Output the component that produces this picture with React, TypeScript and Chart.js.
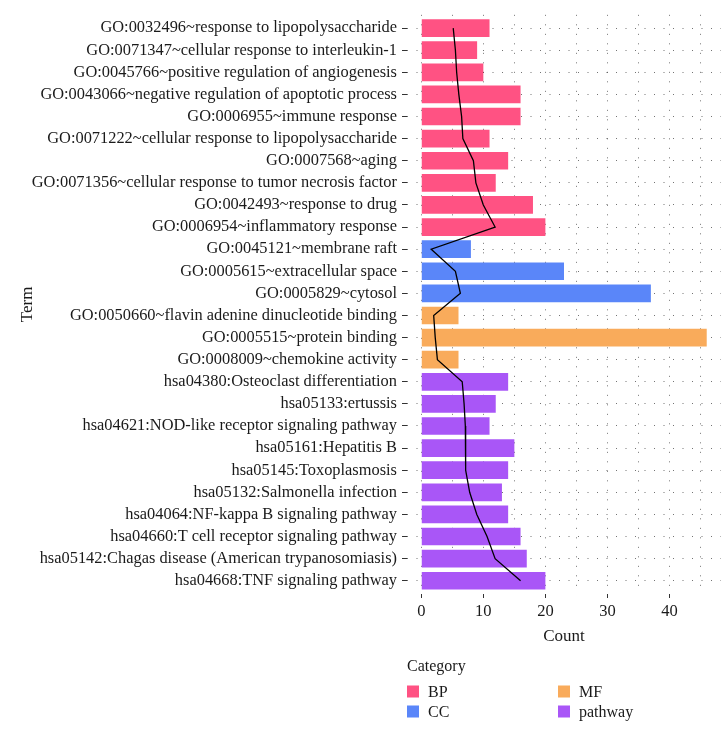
import React, { useEffect, useRef } from 'react';
import { Chart, registerables } from 'chart.js';

Chart.register(...registerables);

const FONT = '"Liberation Serif", "Times New Roman", serif';

const terms = [
  'GO:0032496~response to lipopolysaccharide',
  'GO:0071347~cellular response to interleukin-1',
  'GO:0045766~positive regulation of angiogenesis',
  'GO:0043066~negative regulation of apoptotic process',
  'GO:0006955~immune response',
  'GO:0071222~cellular response to lipopolysaccharide',
  'GO:0007568~aging',
  'GO:0071356~cellular response to tumor necrosis factor',
  'GO:0042493~response to drug',
  'GO:0006954~inflammatory response',
  'GO:0045121~membrane raft',
  'GO:0005615~extracellular space',
  'GO:0005829~cytosol',
  'GO:0050660~flavin adenine dinucleotide binding',
  'GO:0005515~protein binding',
  'GO:0008009~chemokine activity',
  'hsa04380:Osteoclast differentiation',
  'hsa05133:ertussis',
  'hsa04621:NOD-like receptor signaling pathway',
  'hsa05161:Hepatitis B',
  'hsa05145:Toxoplasmosis',
  'hsa05132:Salmonella infection',
  'hsa04064:NF-kappa B signaling pathway',
  'hsa04660:T cell receptor signaling pathway',
  'hsa05142:Chagas disease (American trypanosomiasis)',
  'hsa04668:TNF signaling pathway',
];

const termCategory = [
  'BP', 'BP', 'BP', 'BP', 'BP', 'BP', 'BP', 'BP', 'BP', 'BP',
  'CC', 'CC', 'CC',
  'MF', 'MF', 'MF',
  'pathway', 'pathway', 'pathway', 'pathway', 'pathway',
  'pathway', 'pathway', 'pathway', 'pathway', 'pathway',
];

const counts = [11, 9, 10, 16, 16, 11, 14, 12, 18, 20, 8, 23, 37, 6, 46, 6, 14, 12, 11, 15, 14, 13, 14, 16, 17, 20];

const lineValues = [5.15, 5.5, 5.7, 6.05, 6.5, 6.7, 8.4, 8.8, 10.0, 11.9, 1.6, 5.5, 6.3, 2.0, 2.25, 2.6, 6.6, 6.9, 7.1, 7.1, 7.2, 7.8, 8.95, 10.6, 11.9, 16.0];

const categories = ['BP', 'CC', 'MF', 'pathway'];
const categoryColors = ['#FF5283', '#5A86F9', '#F9AB5B', '#A956F7'];

const xTitle = 'Count';
const yTitle = 'Term';
const legendTitle = 'Category';

export default function App() {
  const ref = useRef<HTMLCanvasElement>(null);

  useEffect(() => {
    const canvas = ref.current!;
    const legendPlugin = {
      id: 'catLegend',
      afterDraw(chart: any) {
        const { ctx, chartArea } = chart;
        const x0 = chartArea.left;
        ctx.save();
        ctx.font = `16px ${FONT}`;
        ctx.textBaseline = 'middle';
        ctx.textAlign = 'left';
        ctx.fillStyle = '#1a1a1a';
        ctx.fillText(legendTitle, x0, 667);
        categories.forEach((c, i) => {
          const col = Math.floor(i / 2);
          const row = i % 2;
          const kx = x0 + col * 151;
          const ky = 691.5 + row * 20;
          ctx.fillStyle = categoryColors[i];
          ctx.fillRect(kx, ky - 6, 12, 12);
          ctx.fillStyle = '#1a1a1a';
          ctx.fillText(c, kx + 21, ky + 1);
        });
        ctx.restore();
      },
    };

    const barColors = termCategory.map((c) => categoryColors[categories.indexOf(c)]);

    const chart = new Chart(canvas, {
      type: 'bar',
      data: {
        datasets: [
          {
            type: 'line',
            label: 'line',
            data: lineValues.map((v, i) => ({ x: v, y: i })),
            borderColor: '#000000',
            borderWidth: 1.3,
            pointRadius: 0,
            fill: false,
            tension: 0,
            order: 0,
          } as any,
          {
            type: 'bar',
            label: 'Count',
            data: counts.map((v, i) => ({ x: v, y: i })),
            backgroundColor: barColors,
            borderWidth: 0,
            barPercentage: 1,
            categoryPercentage: 0.8,
            order: 1,
          },
        ],
      },
      options: {
        indexAxis: 'y',
        responsive: false,
        animation: false,
        events: [],
        layout: { padding: { top: 6, right: 6, bottom: 80, left: 0 } },
        plugins: {
          legend: { display: false },
          tooltip: { enabled: false },
        },
        scales: {
          x: {
            type: 'linear',
            position: 'bottom',
            offset: false,
            min: -2.3,
            max: 48.3,
            afterFit: (s: any) => {
              s.height = 56;
            },
            ticks: {
              stepSize: 5,
              includeBounds: false,
              autoSkip: false,
              maxRotation: 0,
              padding: 4,
              color: '#1a1a1a',
              font: { family: FONT, size: 16.5 },
              callback: (v: any) => (Number(v) % 10 === 0 ? String(v) : ''),
            },
            grid: {
              offset: false,
              color: 'rgba(0,0,0,0.55)',
              lineWidth: 1,
              tickLength: 4,
              tickWidth: 1,
              tickColor: (c: any) => (c.tick && c.tick.value % 10 === 0 ? '#333333' : 'rgba(0,0,0,0)'),
            },
            border: { display: false, dash: [1, 8.5] },
            title: {
              display: true,
              text: xTitle,
              color: '#1a1a1a',
              font: { family: FONT, size: 17 },
              padding: { top: 0, bottom: 3 },
            },
          },
          y: {
            type: 'linear',
            reverse: true,
            offset: false,
            min: -0.6,
            max: 25.6,
            afterFit: (s: any) => {
              s.width = 407;
            },
            ticks: {
              stepSize: 1,
              includeBounds: false,
              autoSkip: false,
              padding: 5,
              color: '#1a1a1a',
              font: { family: FONT, size: 16.4 },
              callback: (v: any) => terms[Number(v)] ?? '',
            },
            grid: {
              offset: false,
              color: 'rgba(0,0,0,0.55)',
              lineWidth: 1,
              tickLength: 5,
              tickWidth: 1,
              tickColor: '#333333',
            },
            border: { display: false, dash: [1, 8.5] },
            title: {
              display: true,
              text: yTitle,
              color: '#1a1a1a',
              font: { family: FONT, size: 17 },
              padding: { top: 17, bottom: 0 },
            },
          },
        },
      },
      plugins: [legendPlugin],
    } as any);

    return () => chart.destroy();
  }, []);

  return (
    <div style={{ position: 'fixed', left: 0, top: 0, width: 727, height: 730, background: '#ffffff' }}>
      <canvas ref={ref} width={727} height={730} style={{ display: 'block' }} />
    </div>
  );
}
